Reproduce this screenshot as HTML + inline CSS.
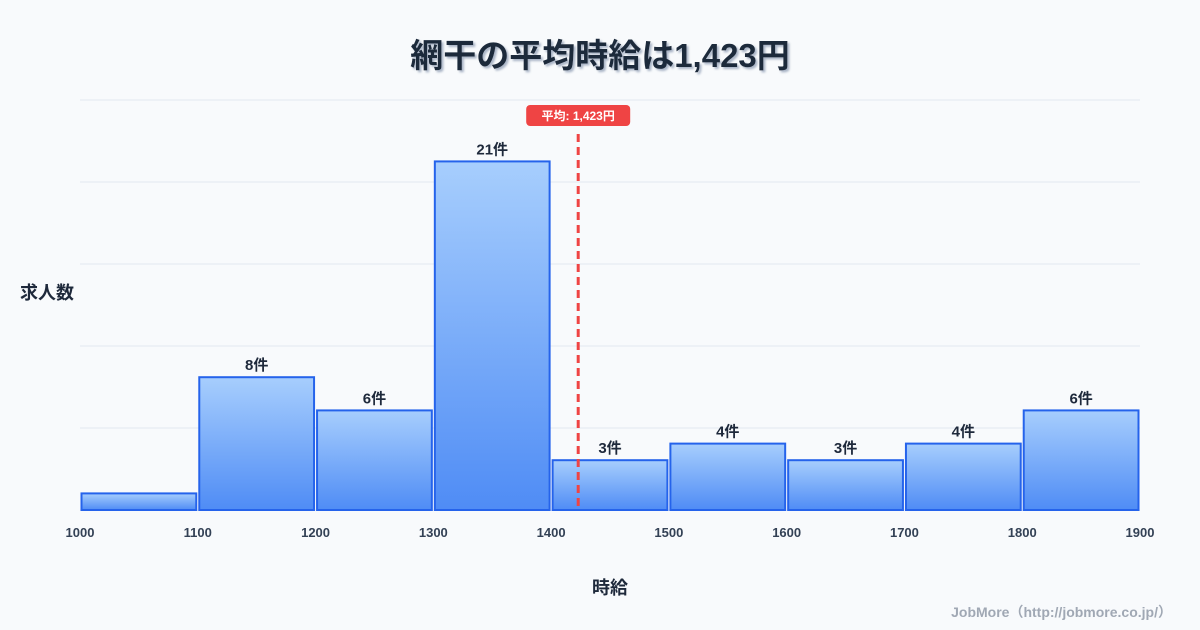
<!DOCTYPE html>
<html><head><meta charset="utf-8">
<style>
body{margin:0;background:#f8fafc;}
svg{display:block;font-family:"Liberation Sans","Noto Sans CJK JP",sans-serif;}
</style></head>
<body>
<svg id="c" width="1200" height="630" viewBox="0 0 1200 630">
<defs>
<linearGradient id="g" x1="0" y1="0" x2="0" y2="1">
<stop offset="0" stop-color="#a7cefd"/><stop offset="1" stop-color="#4f8cf5"/>
</linearGradient>
<filter id="sh"><feDropShadow dx="2" dy="2" stdDeviation="1" flood-color="#94a3b8" flood-opacity="0.8"/></filter>
</defs>
<rect width="1200" height="630" fill="#f8fafc"/>
<text x="600" y="67" text-anchor="middle" font-size="33" font-weight="bold" fill="#1e293b" filter="url(#sh)">網干の平均時給は1,423円</text>
<text x="20" y="299" font-size="18" font-weight="bold" fill="#1e293b">求人数</text>
<text x="610" y="594" text-anchor="middle" font-size="18" font-weight="bold" fill="#1e293b">時給</text>
<text x="1172" y="617" text-anchor="end" font-size="14" font-weight="bold" fill="#a0a8b4">JobMore（http://jobmore.co.jp/）</text>
<g id="grid"></g><g id="bars"></g><g id="xt"></g><g id="mean"></g>
</svg>
<script>
const binStarts=[1000,1100,1200,1300,1400,1500,1600,1700,1800];
const counts=[1,8,6,21,3,4,3,4,6];
const xTicks=[1000,1100,1200,1300,1400,1500,1600,1700,1800,1900];
const meanValue=1423;
const meanLabel="平均: 1,423円";
const NS="http://www.w3.org/2000/svg";
const X0=80,X1=1140,Y0=510,Y1=100,XMIN=1000,XMAX=1900,YMAX=24.7;
const x=v=>X0+(v-XMIN)/(XMAX-XMIN)*(X1-X0);
const y=v=>Y0-v/YMAX*(Y0-Y1);
function mk(tag,at,parent){const e=document.createElementNS(NS,tag);for(const k in at)e.setAttribute(k,at[k]);document.getElementById(parent).appendChild(e);return e;}
for(let i=0;i<=5;i++){const gy=Y0-i*(Y0-Y1)/5;
const l=mk('line',{x1:X0,x2:X1,y1:gy,y2:gy,stroke:'#e2e8f0','stroke-width':1},'grid');

}
binStarts.forEach((b,i)=>{
const xa=x(b)+1.5,xb=x(b+100)-1.5,yt=y(counts[i]);
const r=mk('rect',{x:xa,y:yt,width:xb-xa,height:Y0-yt,fill:'url(#g)',stroke:'#2563eb','stroke-width':2},'bars');


if(counts[i]>1){const t=mk('text',{x:(xa+xb)/2,y:yt-7,'text-anchor':'middle','font-size':15,'font-weight':'bold',fill:'#1e293b'},'bars');t.textContent=counts[i]+'件';

}
});
xTicks.forEach(v=>{const t=mk('text',{x:x(v),y:537,'text-anchor':'middle','font-size':13,'font-weight':'bold',fill:'#334155'},'xt');t.textContent=v;

});
const mx=x(meanValue);
const ml=mk('line',{x1:mx,x2:mx,y1:134,y2:Y0,stroke:'#ef4444','stroke-width':3,'stroke-dasharray':'8,5'},'mean');


const mb=mk('rect',{x:mx-52,y:105,width:104,height:21,rx:4,fill:'#ef4444'},'mean');


const mt=mk('text',{x:mx,y:120,'text-anchor':'middle','font-size':12,'font-weight':'bold',fill:'#fff'},'mean');mt.textContent=meanLabel;


</script>
</body></html>
